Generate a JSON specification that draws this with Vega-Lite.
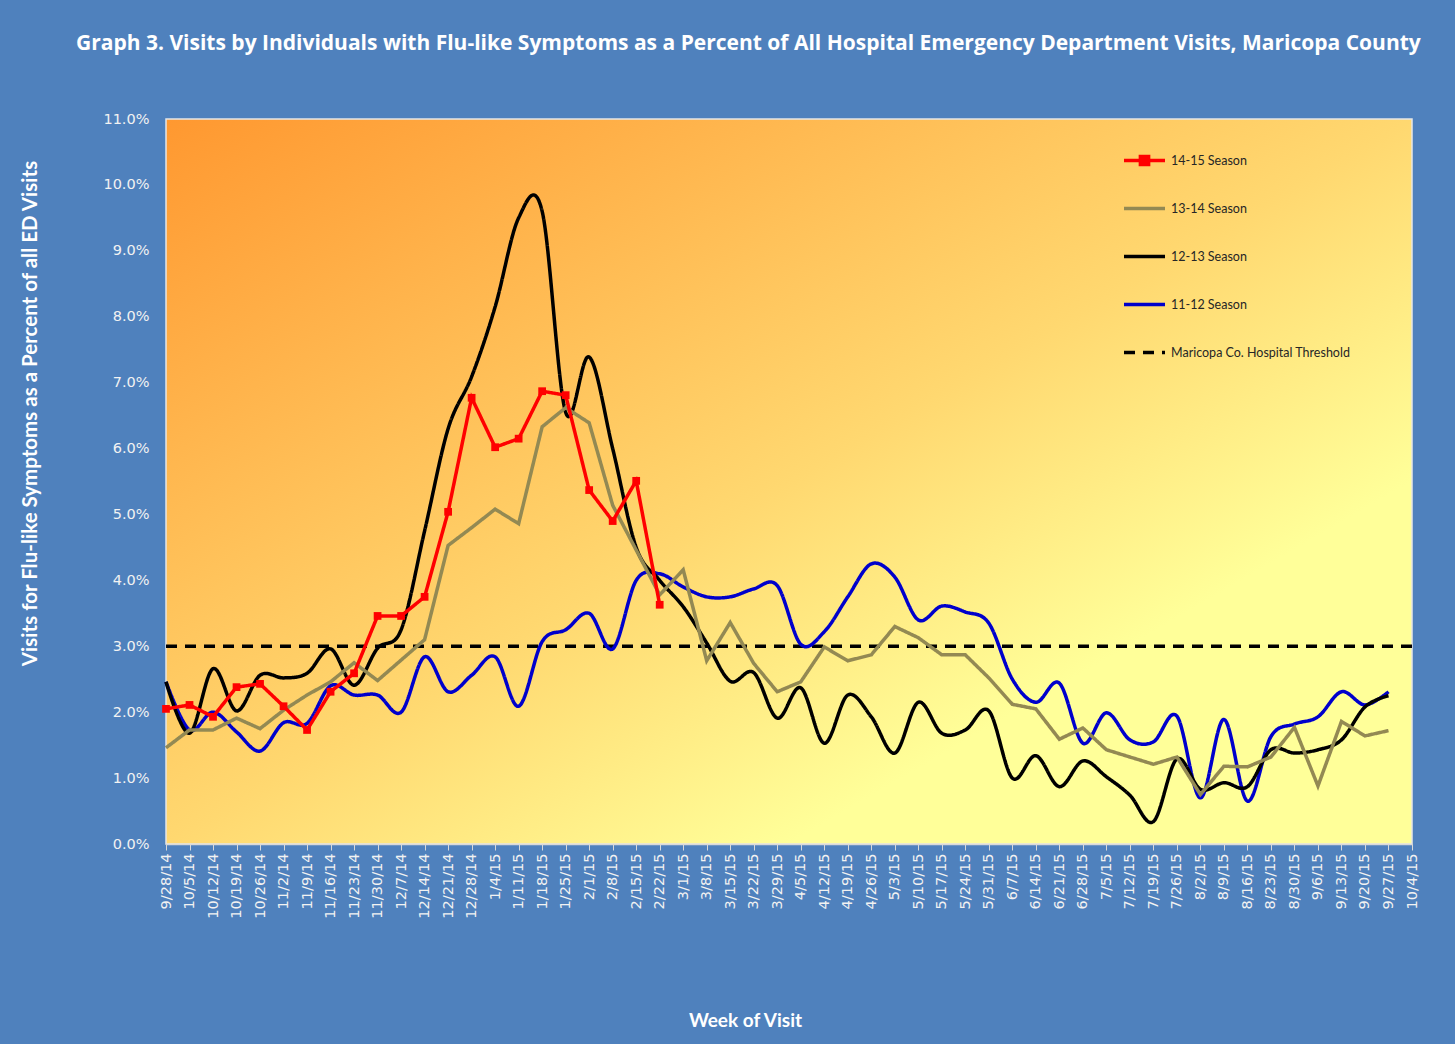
{
  "$schema": "https://vega.github.io/schema/vega-lite/v6.json",
  "width": 1246,
  "height": 725,
  "autosize": {"type": "none"},
  "padding": {"left": 166, "top": 119, "right": 43, "bottom": 200},
  "background": "#4F81BD",
  "config": {
    "view": {
      "stroke": "#E6E6E6",
      "strokeWidth": 1.5,
      "fill": {"gradient": "linear", "x1": 0, "y1": 0, "x2": 1, "y2": 1, "stops": [
        {"offset": 0, "color": "#FF9830"},
        {"offset": 0.5, "color": "#FFD870"},
        {"offset": 0.75, "color": "#FFFF99"},
        {"offset": 1, "color": "#FFFF99"}
      ]}
    },
    "legend": {"labelFont": "Lato", "labelFontSize": 12.5, "labelColor": "#262626"}
  },
  "title": {
    "text": "Graph 3. Visits by Individuals  with Flu-like Symptoms as a Percent of All Hospital  Emergency Department  Visits, Maricopa County",
    "color": "#FFFFFF",
    "font": "Open Sans",
    "fontSize": 21,
    "fontWeight": "bold",
    "anchor": "start",
    "frame": "group",
    "dx": -90,
    "offset": 57
  },
  "data": {"values": [
    {"w": "9/28/14", "s": "14-15 Season", "v": 2.05},
    {"w": "10/5/14", "s": "14-15 Season", "v": 2.11},
    {"w": "10/12/14", "s": "14-15 Season", "v": 1.93},
    {"w": "10/19/14", "s": "14-15 Season", "v": 2.38},
    {"w": "10/26/14", "s": "14-15 Season", "v": 2.43},
    {"w": "11/2/14", "s": "14-15 Season", "v": 2.09},
    {"w": "11/9/14", "s": "14-15 Season", "v": 1.73},
    {"w": "11/16/14", "s": "14-15 Season", "v": 2.31},
    {"w": "11/23/14", "s": "14-15 Season", "v": 2.59},
    {"w": "11/30/14", "s": "14-15 Season", "v": 3.46},
    {"w": "12/7/14", "s": "14-15 Season", "v": 3.46},
    {"w": "12/14/14", "s": "14-15 Season", "v": 3.75},
    {"w": "12/21/14", "s": "14-15 Season", "v": 5.04},
    {"w": "12/28/14", "s": "14-15 Season", "v": 6.77},
    {"w": "1/4/15", "s": "14-15 Season", "v": 6.02},
    {"w": "1/11/15", "s": "14-15 Season", "v": 6.15},
    {"w": "1/18/15", "s": "14-15 Season", "v": 6.87},
    {"w": "1/25/15", "s": "14-15 Season", "v": 6.81},
    {"w": "2/1/15", "s": "14-15 Season", "v": 5.37},
    {"w": "2/8/15", "s": "14-15 Season", "v": 4.90},
    {"w": "2/15/15", "s": "14-15 Season", "v": 5.51},
    {"w": "2/22/15", "s": "14-15 Season", "v": 3.63},

    {"w": "9/28/14", "s": "13-14 Season", "v": 1.46},
    {"w": "10/5/14", "s": "13-14 Season", "v": 1.73},
    {"w": "10/12/14", "s": "13-14 Season", "v": 1.73},
    {"w": "10/19/14", "s": "13-14 Season", "v": 1.91},
    {"w": "10/26/14", "s": "13-14 Season", "v": 1.75},
    {"w": "11/2/14", "s": "13-14 Season", "v": 2.03},
    {"w": "11/9/14", "s": "13-14 Season", "v": 2.26},
    {"w": "11/16/14", "s": "13-14 Season", "v": 2.46},
    {"w": "11/23/14", "s": "13-14 Season", "v": 2.75},
    {"w": "11/30/14", "s": "13-14 Season", "v": 2.48},
    {"w": "12/7/14", "s": "13-14 Season", "v": 2.79},
    {"w": "12/14/14", "s": "13-14 Season", "v": 3.10},
    {"w": "12/21/14", "s": "13-14 Season", "v": 4.53},
    {"w": "12/28/14", "s": "13-14 Season", "v": 4.80},
    {"w": "1/4/15", "s": "13-14 Season", "v": 5.08},
    {"w": "1/11/15", "s": "13-14 Season", "v": 4.86},
    {"w": "1/18/15", "s": "13-14 Season", "v": 6.33},
    {"w": "1/25/15", "s": "13-14 Season", "v": 6.62},
    {"w": "2/1/15", "s": "13-14 Season", "v": 6.39},
    {"w": "2/8/15", "s": "13-14 Season", "v": 5.14},
    {"w": "2/15/15", "s": "13-14 Season", "v": 4.46},
    {"w": "2/22/15", "s": "13-14 Season", "v": 3.78},
    {"w": "3/1/15", "s": "13-14 Season", "v": 4.16},
    {"w": "3/8/15", "s": "13-14 Season", "v": 2.78},
    {"w": "3/15/15", "s": "13-14 Season", "v": 3.36},
    {"w": "3/22/15", "s": "13-14 Season", "v": 2.74},
    {"w": "3/29/15", "s": "13-14 Season", "v": 2.31},
    {"w": "4/5/15", "s": "13-14 Season", "v": 2.46},
    {"w": "4/12/15", "s": "13-14 Season", "v": 2.99},
    {"w": "4/19/15", "s": "13-14 Season", "v": 2.78},
    {"w": "4/26/15", "s": "13-14 Season", "v": 2.87},
    {"w": "5/3/15", "s": "13-14 Season", "v": 3.30},
    {"w": "5/10/15", "s": "13-14 Season", "v": 3.13},
    {"w": "5/17/15", "s": "13-14 Season", "v": 2.87},
    {"w": "5/24/15", "s": "13-14 Season", "v": 2.87},
    {"w": "5/31/15", "s": "13-14 Season", "v": 2.52},
    {"w": "6/7/15", "s": "13-14 Season", "v": 2.12},
    {"w": "6/14/15", "s": "13-14 Season", "v": 2.05},
    {"w": "6/21/15", "s": "13-14 Season", "v": 1.59},
    {"w": "6/28/15", "s": "13-14 Season", "v": 1.76},
    {"w": "7/5/15", "s": "13-14 Season", "v": 1.43},
    {"w": "7/12/15", "s": "13-14 Season", "v": 1.32},
    {"w": "7/19/15", "s": "13-14 Season", "v": 1.21},
    {"w": "7/26/15", "s": "13-14 Season", "v": 1.32},
    {"w": "8/2/15", "s": "13-14 Season", "v": 0.75},
    {"w": "8/9/15", "s": "13-14 Season", "v": 1.18},
    {"w": "8/16/15", "s": "13-14 Season", "v": 1.17},
    {"w": "8/23/15", "s": "13-14 Season", "v": 1.32},
    {"w": "8/30/15", "s": "13-14 Season", "v": 1.77},
    {"w": "9/6/15", "s": "13-14 Season", "v": 0.88},
    {"w": "9/13/15", "s": "13-14 Season", "v": 1.86},
    {"w": "9/20/15", "s": "13-14 Season", "v": 1.64},
    {"w": "9/27/15", "s": "13-14 Season", "v": 1.72},

    {"w": "9/28/14", "s": "12-13 Season", "v": 2.46},
    {"w": "10/5/14", "s": "12-13 Season", "v": 1.68},
    {"w": "10/12/14", "s": "12-13 Season", "v": 2.66},
    {"w": "10/19/14", "s": "12-13 Season", "v": 2.02},
    {"w": "10/26/14", "s": "12-13 Season", "v": 2.56},
    {"w": "11/2/14", "s": "12-13 Season", "v": 2.52},
    {"w": "11/9/14", "s": "12-13 Season", "v": 2.59},
    {"w": "11/16/14", "s": "12-13 Season", "v": 2.96},
    {"w": "11/23/14", "s": "12-13 Season", "v": 2.41},
    {"w": "11/30/14", "s": "12-13 Season", "v": 2.97},
    {"w": "12/7/14", "s": "12-13 Season", "v": 3.25},
    {"w": "12/14/14", "s": "12-13 Season", "v": 4.75},
    {"w": "12/21/14", "s": "12-13 Season", "v": 6.30},
    {"w": "12/28/14", "s": "12-13 Season", "v": 7.09},
    {"w": "1/4/15", "s": "12-13 Season", "v": 8.15},
    {"w": "1/11/15", "s": "12-13 Season", "v": 9.50},
    {"w": "1/18/15", "s": "12-13 Season", "v": 9.60},
    {"w": "1/25/15", "s": "12-13 Season", "v": 6.55},
    {"w": "2/1/15", "s": "12-13 Season", "v": 7.39},
    {"w": "2/8/15", "s": "12-13 Season", "v": 6.00},
    {"w": "2/15/15", "s": "12-13 Season", "v": 4.50},
    {"w": "2/22/15", "s": "12-13 Season", "v": 4.00},
    {"w": "3/1/15", "s": "12-13 Season", "v": 3.60},
    {"w": "3/8/15", "s": "12-13 Season", "v": 3.05},
    {"w": "3/15/15", "s": "12-13 Season", "v": 2.47},
    {"w": "3/22/15", "s": "12-13 Season", "v": 2.60},
    {"w": "3/29/15", "s": "12-13 Season", "v": 1.91},
    {"w": "4/5/15", "s": "12-13 Season", "v": 2.37},
    {"w": "4/12/15", "s": "12-13 Season", "v": 1.53},
    {"w": "4/19/15", "s": "12-13 Season", "v": 2.26},
    {"w": "4/26/15", "s": "12-13 Season", "v": 1.93},
    {"w": "5/3/15", "s": "12-13 Season", "v": 1.38},
    {"w": "5/10/15", "s": "12-13 Season", "v": 2.15},
    {"w": "5/17/15", "s": "12-13 Season", "v": 1.68},
    {"w": "5/24/15", "s": "12-13 Season", "v": 1.73},
    {"w": "5/31/15", "s": "12-13 Season", "v": 2.02},
    {"w": "6/7/15", "s": "12-13 Season", "v": 1.00},
    {"w": "6/14/15", "s": "12-13 Season", "v": 1.34},
    {"w": "6/21/15", "s": "12-13 Season", "v": 0.87},
    {"w": "6/28/15", "s": "12-13 Season", "v": 1.26},
    {"w": "7/5/15", "s": "12-13 Season", "v": 1.02},
    {"w": "7/12/15", "s": "12-13 Season", "v": 0.74},
    {"w": "7/19/15", "s": "12-13 Season", "v": 0.34},
    {"w": "7/26/15", "s": "12-13 Season", "v": 1.29},
    {"w": "8/2/15", "s": "12-13 Season", "v": 0.83},
    {"w": "8/9/15", "s": "12-13 Season", "v": 0.93},
    {"w": "8/16/15", "s": "12-13 Season", "v": 0.87},
    {"w": "8/23/15", "s": "12-13 Season", "v": 1.43},
    {"w": "8/30/15", "s": "12-13 Season", "v": 1.38},
    {"w": "9/6/15", "s": "12-13 Season", "v": 1.43},
    {"w": "9/13/15", "s": "12-13 Season", "v": 1.58},
    {"w": "9/20/15", "s": "12-13 Season", "v": 2.08},
    {"w": "9/27/15", "s": "12-13 Season", "v": 2.25},

    {"w": "9/28/14", "s": "11-12 Season", "v": 2.46},
    {"w": "10/5/14", "s": "11-12 Season", "v": 1.73},
    {"w": "10/12/14", "s": "11-12 Season", "v": 2.00},
    {"w": "10/19/14", "s": "11-12 Season", "v": 1.70},
    {"w": "10/26/14", "s": "11-12 Season", "v": 1.41},
    {"w": "11/2/14", "s": "11-12 Season", "v": 1.84},
    {"w": "11/9/14", "s": "11-12 Season", "v": 1.83},
    {"w": "11/16/14", "s": "11-12 Season", "v": 2.40},
    {"w": "11/23/14", "s": "11-12 Season", "v": 2.26},
    {"w": "11/30/14", "s": "11-12 Season", "v": 2.26},
    {"w": "12/7/14", "s": "11-12 Season", "v": 2.00},
    {"w": "12/14/14", "s": "11-12 Season", "v": 2.84},
    {"w": "12/21/14", "s": "11-12 Season", "v": 2.31},
    {"w": "12/28/14", "s": "11-12 Season", "v": 2.56},
    {"w": "1/4/15", "s": "11-12 Season", "v": 2.84},
    {"w": "1/11/15", "s": "11-12 Season", "v": 2.09},
    {"w": "1/18/15", "s": "11-12 Season", "v": 3.07},
    {"w": "1/25/15", "s": "11-12 Season", "v": 3.25},
    {"w": "2/1/15", "s": "11-12 Season", "v": 3.50},
    {"w": "2/8/15", "s": "11-12 Season", "v": 2.96},
    {"w": "2/15/15", "s": "11-12 Season", "v": 4.00},
    {"w": "2/22/15", "s": "11-12 Season", "v": 4.10},
    {"w": "3/1/15", "s": "11-12 Season", "v": 3.90},
    {"w": "3/8/15", "s": "11-12 Season", "v": 3.75},
    {"w": "3/15/15", "s": "11-12 Season", "v": 3.75},
    {"w": "3/22/15", "s": "11-12 Season", "v": 3.87},
    {"w": "3/29/15", "s": "11-12 Season", "v": 3.92},
    {"w": "4/5/15", "s": "11-12 Season", "v": 3.03},
    {"w": "4/12/15", "s": "11-12 Season", "v": 3.22},
    {"w": "4/19/15", "s": "11-12 Season", "v": 3.75},
    {"w": "4/26/15", "s": "11-12 Season", "v": 4.25},
    {"w": "5/3/15", "s": "11-12 Season", "v": 4.05},
    {"w": "5/10/15", "s": "11-12 Season", "v": 3.40},
    {"w": "5/17/15", "s": "11-12 Season", "v": 3.61},
    {"w": "5/24/15", "s": "11-12 Season", "v": 3.52},
    {"w": "5/31/15", "s": "11-12 Season", "v": 3.35},
    {"w": "6/7/15", "s": "11-12 Season", "v": 2.50},
    {"w": "6/14/15", "s": "11-12 Season", "v": 2.15},
    {"w": "6/21/15", "s": "11-12 Season", "v": 2.44},
    {"w": "6/28/15", "s": "11-12 Season", "v": 1.53},
    {"w": "7/5/15", "s": "11-12 Season", "v": 1.99},
    {"w": "7/12/15", "s": "11-12 Season", "v": 1.58},
    {"w": "7/19/15", "s": "11-12 Season", "v": 1.55},
    {"w": "7/26/15", "s": "11-12 Season", "v": 1.94},
    {"w": "8/2/15", "s": "11-12 Season", "v": 0.70},
    {"w": "8/9/15", "s": "11-12 Season", "v": 1.89},
    {"w": "8/16/15", "s": "11-12 Season", "v": 0.65},
    {"w": "8/23/15", "s": "11-12 Season", "v": 1.63},
    {"w": "8/30/15", "s": "11-12 Season", "v": 1.82},
    {"w": "9/6/15", "s": "11-12 Season", "v": 1.93},
    {"w": "9/13/15", "s": "11-12 Season", "v": 2.31},
    {"w": "9/20/15", "s": "11-12 Season", "v": 2.11},
    {"w": "9/27/15", "s": "11-12 Season", "v": 2.31},

    {"w": "9/28/14", "s": "Maricopa Co. Hospital Threshold", "v": 3.0},
    {"w": "10/4/15", "s": "Maricopa Co. Hospital Threshold", "v": 3.0}
  ]},
  "encoding": {
    "x": {
      "field": "w", "type": "ordinal",
      "scale": {"type": "point", "padding": 0, "domain": ["9/28/14","10/5/14","10/12/14","10/19/14","10/26/14","11/2/14","11/9/14","11/16/14","11/23/14","11/30/14","12/7/14","12/14/14","12/21/14","12/28/14","1/4/15","1/11/15","1/18/15","1/25/15","2/1/15","2/8/15","2/15/15","2/22/15","3/1/15","3/8/15","3/15/15","3/22/15","3/29/15","4/5/15","4/12/15","4/19/15","4/26/15","5/3/15","5/10/15","5/17/15","5/24/15","5/31/15","6/7/15","6/14/15","6/21/15","6/28/15","7/5/15","7/12/15","7/19/15","7/26/15","8/2/15","8/9/15","8/16/15","8/23/15","8/30/15","9/6/15","9/13/15","9/20/15","9/27/15","10/4/15"]},
      "axis": {
        "title": "Week of Visit",
        "titleColor": "#FFFFFF", "titleFont": "Lato", "titleFontSize": 19, "titleFontWeight": "bold",
        "titleX": 579, "titleY": 176, "titleBaseline": "middle",
        "labelAngle": -90, "labelFont": "DejaVu Sans", "labelFontSize": 14.5, "labelColor": "#F2F2F2", "labelPadding": 3,
        "tickColor": "#D9D9D9", "tickSize": 6, "domainColor": "#D9D9D9", "domainWidth": 1.5, "grid": false, "labelOverlap": false
      }
    },
    "y": {
      "field": "v", "type": "quantitative",
      "scale": {"domain": [0, 11], "nice": false},
      "axis": {
        "title": "Visits for Flu-like Symptoms as a Percent of all ED Visits",
        "titleColor": "#FFFFFF", "titleFont": "Lato", "titleFontSize": 20.5, "titleFontWeight": "bold",
        "titleX": -136, "titleY": 294, "titleBaseline": "middle", "titleAlign": "center",
        "values": [0,1,2,3,4,5,6,7,8,9,10,11],
        "labelExpr": "format(datum.value, '.1f') + '%'",
        "labelFont": "DejaVu Sans", "labelFontSize": 14.5, "labelColor": "#F2F2F2", "labelPadding": 17,
        "ticks": false, "domain": false, "grid": false
      }
    },
    "color": {
      "field": "s", "type": "nominal",
      "scale": {
        "domain": ["14-15 Season","13-14 Season","12-13 Season","11-12 Season","Maricopa Co. Hospital Threshold"],
        "range": ["#FF0000","#938953","#000000","#0000CC","#000000"]
      },
      "legend": {
        "title": null, "orient": "none", "legendX": 956, "legendY": 19,
        "symbolType": "stroke", "symbolSize": 1681, "symbolStrokeWidth": 3.5,
        "rowPadding": 14, "labelOffset": 4, "labelLimit": 400,
        "encode": {"symbols": {"update": {
          "shape": {"signal": "datum.value === '14-15 Season' ? 'M-1,0H1M-0.2,-0.2H0.2V0.2H-0.2Z' : 'M-1,0H1M0,-0.2V-0.2M0,0.2V0.2'"},
          "fill": {"scale": "color", "field": "value"}
        }}}
      }
    },
    "strokeDash": {
      "field": "s", "type": "nominal",
      "scale": {
        "domain": ["14-15 Season","13-14 Season","12-13 Season","11-12 Season","Maricopa Co. Hospital Threshold"],
        "range": [[1,0],[1,0],[1,0],[1,0],[11,8]]
      },
      "legend": null
    }
  },
  "layer": [
    {"transform": [{"filter": "datum.s === 'Maricopa Co. Hospital Threshold'"}], "mark": {"type": "line", "strokeWidth": 3.5}},
    {"transform": [{"filter": "datum.s === '11-12 Season'"}], "mark": {"type": "line", "strokeWidth": 3.5, "interpolate": "cardinal", "tension": 0}},
    {"transform": [{"filter": "datum.s === '12-13 Season'"}], "mark": {"type": "line", "strokeWidth": 3.5, "interpolate": "cardinal", "tension": 0}},
    {"transform": [{"filter": "datum.s === '13-14 Season'"}], "mark": {"type": "line", "strokeWidth": 3.5}},
    {"transform": [{"filter": "datum.s === '14-15 Season'"}], "mark": {"type": "line", "strokeWidth": 3.5, "point": {"shape": "square", "size": 60, "filled": true, "opacity": 1}}}
  ]
}
